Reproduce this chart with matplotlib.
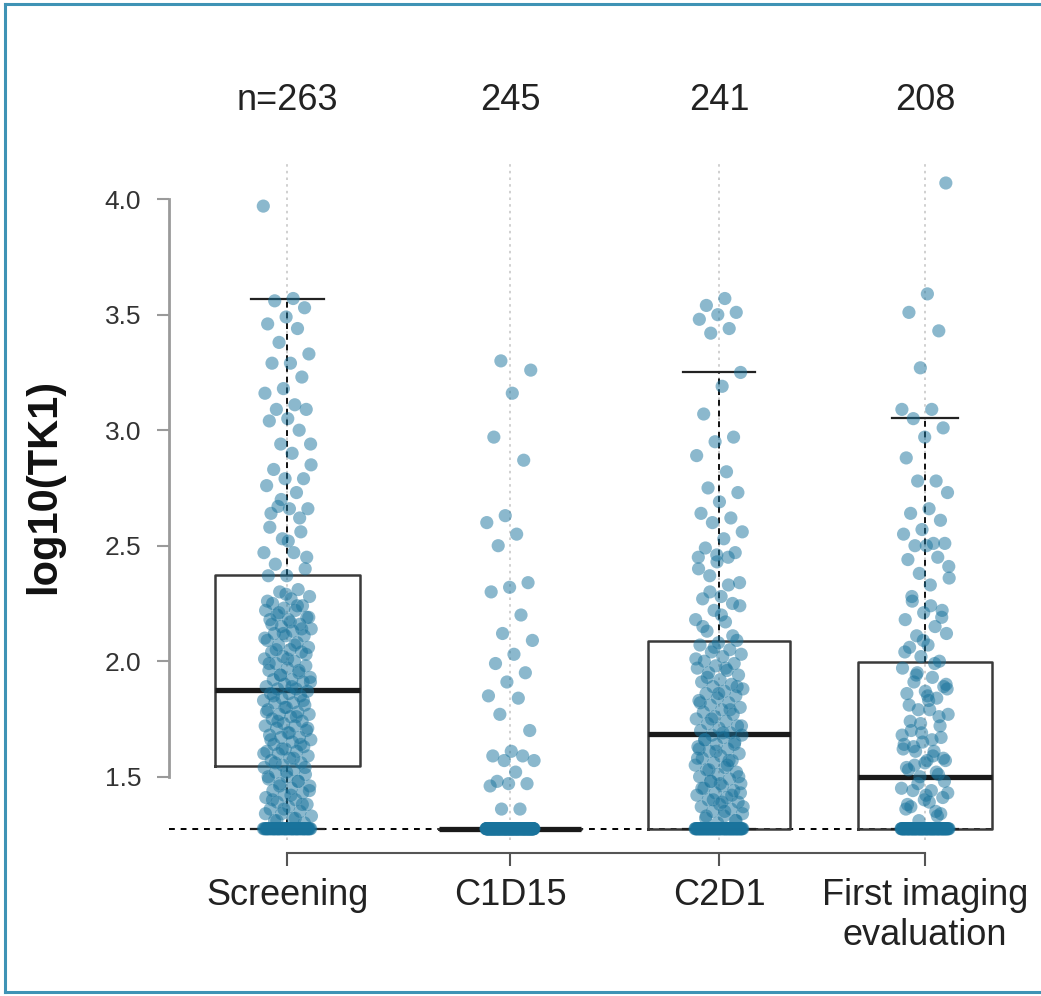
import numpy as np
import matplotlib.pyplot as plt
from matplotlib.lines import Line2D

# categories and labels
groups = ['Screening', 'C1D15', 'C2D1', 'First imaging\nevaluation']
n_labels = ['n=263', '245', '241', '208']
n_total = [263, 245, 241, 208]
detect_limit = 1.275   # values at the assay floor

# box statistics
q1 = [1.545, 1.275, 1.275, 1.275]
med = [1.875, 1.275, 1.683, 1.500]
q3 = [2.375, 1.275, 2.087, 1.996]
whis_lo = [1.275, 1.275, 1.275, 1.275]
whis_hi = [3.570, 1.275, 3.252, 3.052]

# points above the floor (the rest of n sit on the detection limit)
screening = [
    3.97, 3.57, 3.56, 3.53, 3.49, 3.46, 3.44, 3.38, 3.33, 3.29, 3.29, 3.23,
    3.18, 3.16, 3.11, 3.09, 3.09, 3.05, 3.04, 3.00, 2.94, 2.94, 2.90, 2.83,
    2.79, 2.79, 2.76, 2.73, 2.67, 2.66, 2.66, 2.64, 2.56, 2.53, 2.47, 2.47,
    2.42, 2.40, 2.37, 2.37, 2.31, 2.30, 2.28, 2.27, 2.25, 2.24, 2.23, 2.22,
    2.22, 2.20, 2.19, 2.18, 2.18, 2.16, 2.15, 2.14, 2.13, 2.12, 2.11, 2.11,
    2.09, 2.08, 2.07, 2.06, 2.05, 2.04, 2.04, 2.02, 2.01, 2.00, 1.99, 1.98,
    1.97, 1.96, 1.95, 1.94, 1.93, 1.92, 1.92, 1.91, 1.90, 1.89, 1.88, 1.88,
    1.87, 1.86, 1.86, 1.85, 1.84, 1.83, 1.82, 1.82, 1.81, 1.80, 1.79, 1.78,
    1.77, 1.77, 1.76, 1.75, 1.74, 1.73, 1.72, 1.72, 1.71, 1.70, 1.69, 1.68,
    1.67, 1.67, 1.66, 1.65, 1.64, 1.63, 1.62, 1.61, 1.61, 1.60, 1.59, 1.58,
    1.57, 1.56, 1.55, 1.54, 1.53, 1.52, 1.51, 1.50, 1.49, 1.48, 1.47, 1.46,
    1.45, 1.44, 1.43, 1.42, 1.41, 1.40, 1.39, 1.38, 1.37, 1.36, 1.35, 1.34,
    1.33, 1.32, 1.31, 1.30,
    2.29, 2.26, 2.24, 2.21, 2.19, 2.17, 2.16, 2.14, 2.12, 2.10, 2.07, 2.05,
    2.03, 2.01, 1.99, 1.96, 1.94, 1.91, 1.89, 1.85, 1.83, 1.80, 1.78, 1.76,
    1.74, 1.71, 1.69, 1.66, 1.64, 1.62, 1.60, 1.58, 1.56, 1.54, 1.52, 1.50,
    1.48, 1.46, 1.44, 1.42, 1.40, 1.38, 1.36, 1.34, 1.32, 1.31, 2.45, 2.52,
    2.58, 2.62, 2.70, 2.85,
]
c1d15 = [
    3.30, 3.26, 3.16, 2.97, 2.87, 2.63, 2.60, 2.55, 2.50, 2.34, 2.32, 2.30,
    2.20, 2.12, 2.09, 2.03, 1.99, 1.95, 1.91, 1.85, 1.84, 1.77, 1.70, 1.61,
    1.59, 1.59, 1.57, 1.57, 1.52, 1.48, 1.47, 1.47, 1.46, 1.36, 1.36,
]
c2d1 = [
    3.57, 3.54, 3.51, 3.50, 3.48, 3.44, 3.42, 3.25, 3.19, 3.07, 2.97, 2.95,
    2.89, 2.82, 2.75, 2.73, 2.69, 2.64, 2.62, 2.60, 2.56, 2.53, 2.49, 2.47,
    2.46, 2.45, 2.45, 2.37, 2.34, 2.28, 2.27, 2.25, 2.22, 2.18, 2.17, 2.13,
    2.09, 2.08, 2.07, 2.05, 2.04, 2.03, 2.02, 2.00, 1.99, 1.98, 1.97, 1.96,
    1.95, 1.94, 1.92, 1.91, 1.90, 1.89, 1.88, 1.87, 1.86, 1.85, 1.84, 1.83,
    1.82, 1.81, 1.80, 1.79, 1.78, 1.77, 1.76, 1.75, 1.74, 1.73, 1.72, 1.71,
    1.70, 1.69, 1.68, 1.68, 1.67, 1.66, 1.65, 1.64, 1.63, 1.62, 1.61, 1.60,
    1.59, 1.58, 1.57, 1.56, 1.55, 1.54, 1.53, 1.52, 1.51, 1.50, 1.49, 1.48,
    1.47, 1.46, 1.45, 1.44, 1.43, 1.42, 1.41, 1.40, 1.39, 1.38, 1.37, 1.36,
    1.35, 1.34, 1.33, 1.32, 1.31,
    2.43, 2.40, 2.33, 2.30, 2.24, 2.20, 2.15, 2.11, 2.06, 2.01, 1.97, 1.93,
    1.89, 1.86, 1.82, 1.79, 1.75, 1.72, 1.69, 1.66, 1.64, 1.61, 1.58, 1.55,
    1.53, 1.50, 1.47, 1.45, 1.42, 1.40, 1.37, 1.35, 1.33, 1.31, 1.30, 1.62,
    1.57, 1.48, 1.43, 1.39,
]
first_eval = [
    4.07, 3.59, 3.51, 3.43, 3.27, 3.09, 3.09, 3.05, 3.01, 2.97, 2.88, 2.78,
    2.78, 2.73, 2.66, 2.64, 2.61, 2.57, 2.55, 2.51, 2.50, 2.51, 2.50, 2.44,
    2.45, 2.38, 2.36, 2.24, 2.26, 2.22, 2.21, 2.18, 2.15, 2.11, 2.12, 2.07,
    2.06, 2.00, 2.02, 1.97, 1.93, 1.91, 1.89, 1.87, 1.86, 1.84, 1.79, 1.77,
    1.79, 1.70, 1.67, 1.65, 1.64, 1.61, 1.61, 1.57, 1.57, 1.53, 1.51, 1.50,
    1.45, 1.44, 1.44, 1.41, 1.40, 1.36, 1.35, 1.95, 1.88, 1.83, 1.74, 1.72,
    1.69, 1.62, 1.59, 1.55, 1.48, 1.42, 1.38, 1.33, 1.31,
    2.41, 2.33, 2.28, 2.19, 2.09, 2.04, 1.99, 1.94, 1.90, 1.85, 1.81, 1.76,
    1.73, 1.68, 1.66, 1.63, 1.58, 1.56, 1.54, 1.52, 1.47, 1.43, 1.39, 1.37,
    1.34,
]
series = [screening, c1d15, c2d1, first_eval]

# layout
positions = [0.0, 1.06, 2.055, 3.036]
box_widths = [0.69, 0.68, 0.68, 0.635]
point_color = '#19739c'
frame_color = '#3f93b5'
label_font = ['Liberation Sans Narrow', 'Liberation Sans', 'DejaVu Sans']

fig = plt.figure(figsize=(10.41, 9.96), dpi=100)
ax = fig.add_axes([169 / 1041, 156 / 996, 872 / 1041, 680 / 996])
ax.set_xlim(-0.564, 3.588)
ax.set_ylim(1.5 - 63 / 230, 4.0 + 39 / 230)

# light dotted guide at each category
for p in positions:
    ax.axvline(p, color='#c8c8c8', lw=1.2, ls=(0, (1.5, 2.5)), zorder=0)

# assay floor
ax.hlines(detect_limit, ax.get_xlim()[0], positions[-1] + box_widths[-1] / 2,
          colors='k', lw=1.4, linestyles=(0, (3, 3)), zorder=1)

stats = []
for i in range(len(groups)):
    stats.append(dict(med=med[i], q1=q1[i], q3=q3[i], whislo=whis_lo[i],
                      whishi=whis_hi[i], fliers=[]))
ax.bxp(stats, positions=positions, widths=box_widths, showfliers=False,
       boxprops=dict(color='#3a3a3a', lw=1.8),
       medianprops=dict(color='#1a1a1a', lw=3.8, solid_capstyle='butt'),
       whiskerprops=dict(color='#111111', lw=1.4, ls=(0, (3, 2.5))),
       capprops=dict(color='#222222', lw=1.6), zorder=2)

# jittered points
for i, vals in enumerate(series):
    floor_n = max(n_total[i] - len(vals), 0)
    y = np.array(vals + [detect_limit] * floor_n)
    k = np.arange(len(y))
    offs = ((k * 0.618034 + 0.31 * i) % 1.0 - 0.5) * 0.23
    ax.scatter(positions[i] + offs, y, s=90, color=point_color, alpha=0.5,
               edgecolors='none', zorder=3)

# n labels above the panel
for p, lab in zip(positions, n_labels):
    ax.text(p, 1.088, lab, transform=ax.get_xaxis_transform(), ha='center',
            va='center', fontsize=26, color='#222222', family=label_font)

# axes styling
for s in ['top', 'right']:
    ax.spines[s].set_visible(False)
ax.spines['left'].set_bounds(1.5, 4.0)
ax.spines['left'].set_color('#9a9a9a')
ax.spines['left'].set_linewidth(2.0)
ax.spines['bottom'].set_bounds(positions[0], positions[-1])
ax.spines['bottom'].set_position(('outward', 9))
ax.spines['bottom'].set_color('#555555')
ax.spines['bottom'].set_linewidth(1.5)

ax.set_yticks([1.5, 2.0, 2.5, 3.0, 3.5, 4.0])
ax.set_yticklabels(['1.5', '2.0', '2.5', '3.0', '3.5', '4.0'],
                   family='Liberation Sans', fontsize=19, color='#333333')
ax.tick_params(axis='y', length=9, width=1.5, color='#9a9a9a', pad=11)
ax.set_xticks(positions)
ax.set_xticklabels(groups, fontsize=26, color='#222222', linespacing=1.2,
                   family=label_font)
ax.tick_params(axis='x', length=9, width=1.5, color='#555555', pad=9)

ax.set_ylabel('log10(TK1)', fontsize=30, fontweight='bold',
              family='Liberation Sans', color='#111111')
ax.yaxis.set_label_coords(-0.12, 0.52)

# panel frame (left, top and bottom edges visible)
fig.add_artist(Line2D([5 / 1041, 5 / 1041], [4 / 996, 992 / 996],
                      transform=fig.transFigure, color=frame_color, lw=2.2))
fig.add_artist(Line2D([5 / 1041, 1.0], [992 / 996, 992 / 996],
                      transform=fig.transFigure, color=frame_color, lw=2.2))
fig.add_artist(Line2D([5 / 1041, 1.0], [4 / 996, 4 / 996],
                      transform=fig.transFigure, color=frame_color, lw=2.2))

fig.savefig('out.png', dpi=100)
